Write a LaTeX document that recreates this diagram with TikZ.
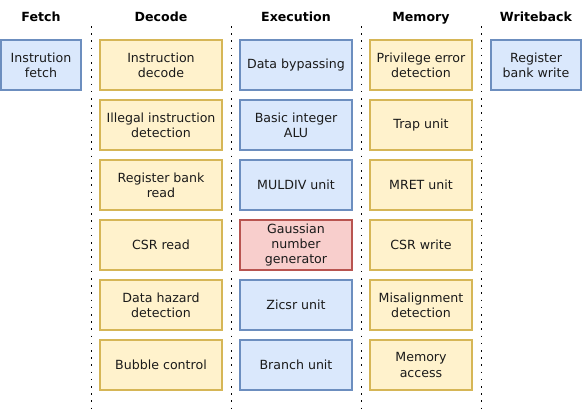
\documentclass[tikz,border=0pt]{standalone}
\usepackage{fontspec}
\setmainfont{DejaVu Sans}
\definecolor{bluefill}{HTML}{DAE8FC}
\definecolor{blueline}{HTML}{6C8EBF}
\definecolor{yellowfill}{HTML}{FFF2CC}
\definecolor{yellowline}{HTML}{D6B656}
\definecolor{redfill}{HTML}{F8CECC}
\definecolor{redline}{HTML}{B85450}
\definecolor{textgrey}{HTML}{1A1A1A}
\tikzset{
  unitbox/.style={draw, line width=1.5pt, align=center, inner sep=0pt,
    font=\fontsize{12.6}{15.2}\selectfont, text=textgrey},
  blueunit/.style={unitbox, fill=bluefill, draw=blueline},
  yellowunit/.style={unitbox, fill=yellowfill, draw=yellowline},
  redunit/.style={unitbox, fill=redfill, draw=redline},
  stagehead/.style={font=\fontsize{12.6}{15}\selectfont\bfseries, anchor=base, inner sep=0pt},
  separator/.style={line width=1.6pt, dash pattern=on 1.6pt off 5.6pt}
}
\begin{document}
\begin{tikzpicture}[x=1pt,y=-1pt]
    \useasboundingbox (0,0) rectangle (582,413);
    % stage titles
    \node [stagehead] (hfetch) at (41,21) {Fetch};
    \node [stagehead] (hdecode) at (161,21) {Decode};
    \node [stagehead] (hexec) at (296,21) {Execution};
    \node [stagehead] (hmem) at (421,21) {Memory};
    \node [stagehead] (hwb) at (536,21) {Writeback};
    % separators
    \foreach \sx in {91.5,231.5,361.5,481.5}
        \draw [separator] (\sx,26) -- (\sx,410);
    % fetch
    \node [blueunit, minimum width=80, minimum height=50] (ifetch) at (41,65) {Instrution\\fetch};
    % decode
    \node [yellowunit, minimum width=122, minimum height=50] (idecode) at (161,65) {Instruction\\decode};
    \node [yellowunit, minimum width=122, minimum height=50] (illegal) at (161,125) {Illegal instruction\\detection};
    \node [yellowunit, minimum width=122, minimum height=50] (regread) at (161,185) {Register bank\\read};
    \node [yellowunit, minimum width=122, minimum height=50] (csrread) at (161,245) {CSR read};
    \node [yellowunit, minimum width=122, minimum height=50] (hazard) at (161,305) {Data hazard\\detection};
    \node [yellowunit, minimum width=122, minimum height=50] (bubble) at (161,365) {Bubble control};
    % execution
    \node [blueunit, minimum width=112, minimum height=50] (bypass) at (296,65) {Data bypassing};
    \node [blueunit, minimum width=112, minimum height=50] (alu) at (296,125) {Basic integer\\ALU};
    \node [blueunit, minimum width=112, minimum height=50] (muldiv) at (296,185) {MULDIV unit};
    \node [redunit, minimum width=112, minimum height=50] (gauss) at (296,245) {Gaussian\\number\\generator};
    \node [blueunit, minimum width=112, minimum height=50] (zicsr) at (296,305) {Zicsr unit};
    \node [blueunit, minimum width=112, minimum height=50] (branch) at (296,365) {Branch unit};
    % memory
    \node [yellowunit, minimum width=102, minimum height=50] (priverr) at (421,65) {Privilege error\\detection};
    \node [yellowunit, minimum width=102, minimum height=50] (trap) at (421,125) {Trap unit};
    \node [yellowunit, minimum width=102, minimum height=50] (mret) at (421,185) {MRET unit};
    \node [yellowunit, minimum width=102, minimum height=50] (csrwrite) at (421,245) {CSR write};
    \node [yellowunit, minimum width=102, minimum height=50] (misalign) at (421,305) {Misalignment\\detection};
    \node [yellowunit, minimum width=102, minimum height=50] (memacc) at (421,365) {Memory\\access};
    % writeback
    \node [blueunit, minimum width=90, minimum height=50] (regwrite) at (536,65) {Register\\bank write};
\end{tikzpicture}
\end{document}
